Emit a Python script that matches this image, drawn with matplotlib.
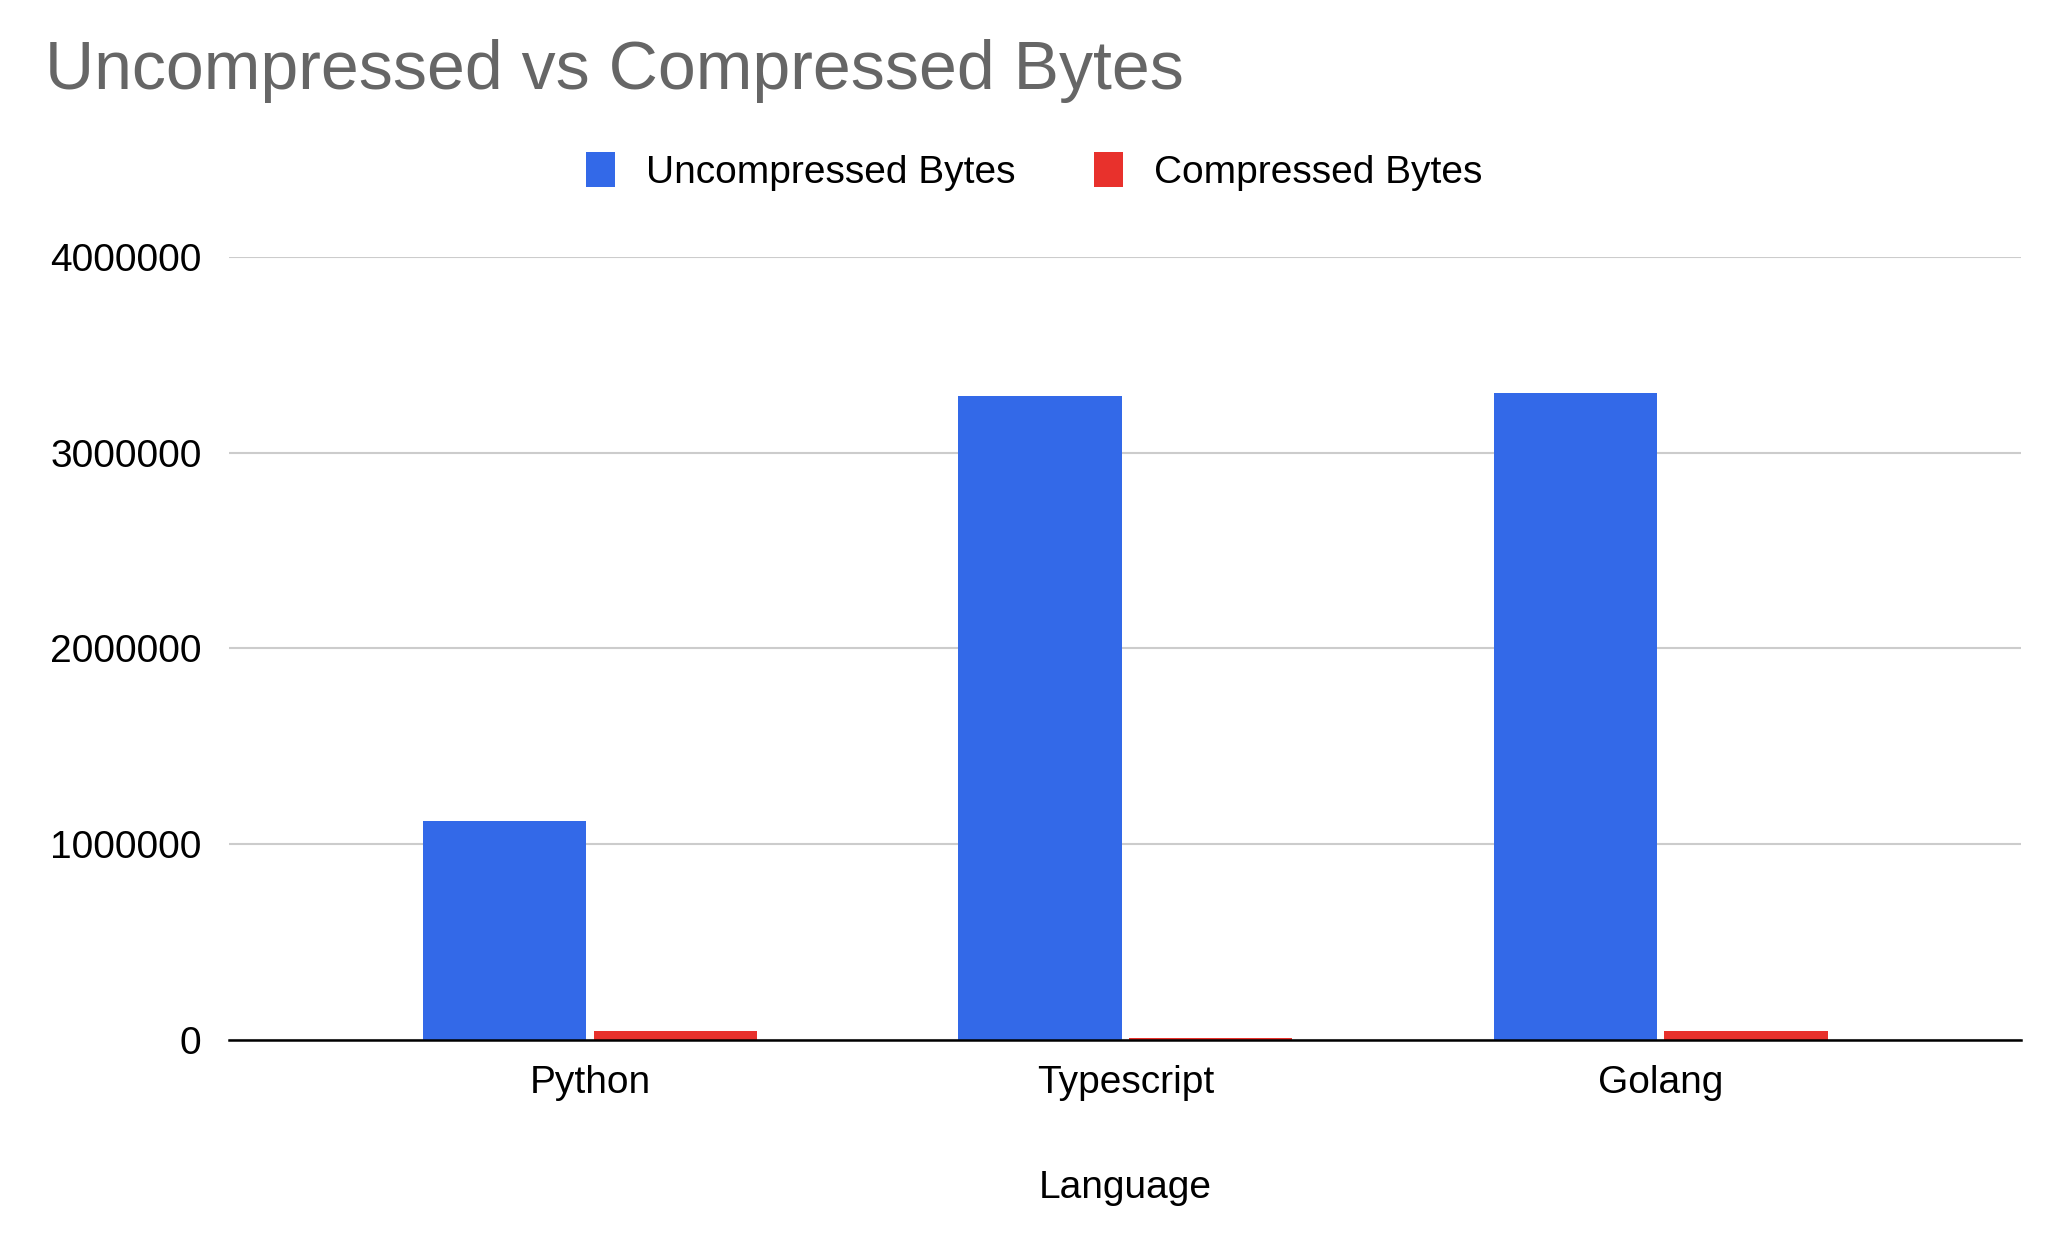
import matplotlib.pyplot as plt
import numpy as np

plt.rcParams['font.family'] = ['Liberation Sans', 'DejaVu Sans']

categories = ["Python", "Typescript", "Golang"]
uncompressed = [1115000, 3290000, 3305000]
compressed = [42000, 8000, 42000]
yticks = [0, 1000000, 2000000, 3000000, 4000000]

fig = plt.figure(figsize=(20.48, 12.54), dpi=100)
ax = fig.add_axes([0.112, 0.171, 0.875, 0.624])
x = np.arange(len(categories))
w = 0.305
ax.bar(x - w/2 - 0.007, uncompressed, w, color="#3369e8", label="Uncompressed Bytes", zorder=3)
ax.bar(x + w/2 + 0.007, compressed, w, color="#e8312c", label="Compressed Bytes", zorder=3)
ax.set_xlim(-0.674, 2.674)
ax.set_ylim(0, 4000000)
ax.set_yticks(yticks)
ax.set_yticklabels([str(t) for t in yticks])
ax.set_xticks(x)
ax.set_xticklabels(categories)
ax.tick_params(axis='y', length=0, labelsize=28, pad=20)
ax.tick_params(axis='x', length=0, labelsize=28, pad=18)
ax.grid(axis="y", color="#cccccc", linewidth=1.5, zorder=0)
for s in ["top", "right", "left"]:
    ax.spines[s].set_visible(False)
ax.spines["bottom"].set_linewidth(1.8)
ax.spines["bottom"].set_zorder(4)
ax.set_xlabel("Language", fontsize=28, labelpad=50)
fig.text(0.022, 0.943, "Uncompressed vs Compressed Bytes", fontsize=49, color="#666666", va="center")
fig.legend(loc="center", bbox_to_anchor=(0.505, 0.863), ncol=2, frameon=False, fontsize=28,
           handlelength=0.75, handleheight=1.0, columnspacing=2.0, handletextpad=0.8)
fig.savefig("out.png")
